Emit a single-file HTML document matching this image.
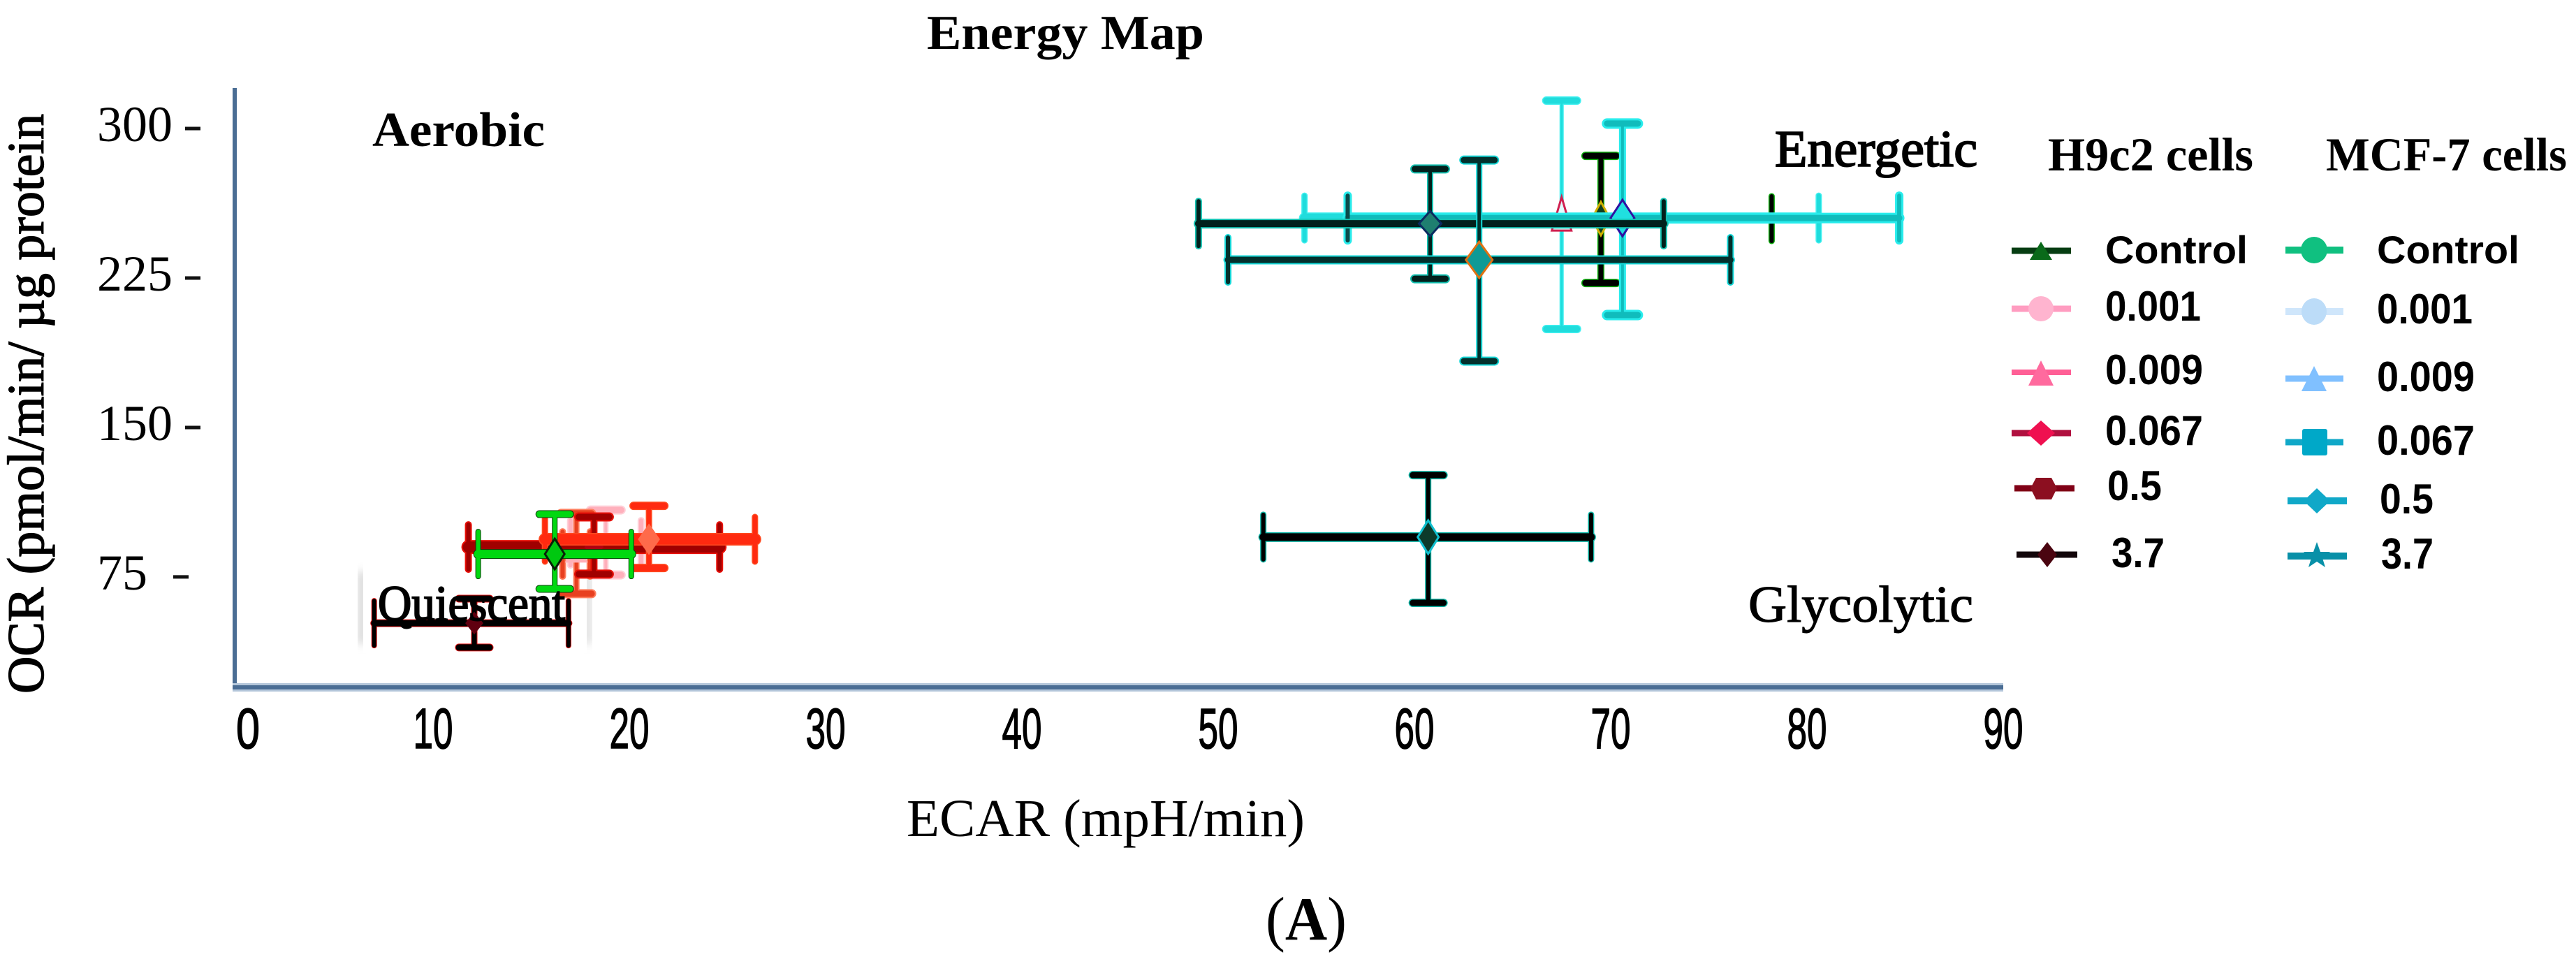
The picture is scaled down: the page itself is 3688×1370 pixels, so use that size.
<!DOCTYPE html>
<html lang="en">
<head>
<meta charset="utf-8">
<title>Energy Map</title>
<style>
html,body{margin:0;padding:0;background:#fff;}
svg{display:block;}
.serif{font-family:"Liberation Serif",serif;fill:#000;}
.sans{font-family:"Liberation Sans",sans-serif;fill:#000;}
</style>
</head>
<body>
<svg id="chart" xmlns="http://www.w3.org/2000/svg" width="3688" height="1370" viewBox="0 0 3688 1370">
  <defs><filter id="soft" x="-20%" y="-20%" width="140%" height="140%"><feGaussianBlur stdDeviation="6"/></filter></defs>
  <rect width="3688" height="1370" fill="#fff"/>
  <text class="serif" x="1327" y="70" font-size="70" font-weight="bold" textLength="397" lengthAdjust="spacingAndGlyphs">Energy Map</text>
  <text class="serif" transform="translate(62 993) rotate(-90)" font-size="74" stroke="#000" stroke-width="1.4" textLength="830" lengthAdjust="spacingAndGlyphs">OCR (pmol/min/ µg protein</text>
  <text class="serif" x="1298" y="1197" font-size="76" textLength="570" lengthAdjust="spacingAndGlyphs">ECAR (mpH/min)</text>
  <text class="serif" x="1812" y="1345" font-size="88" textLength="116" lengthAdjust="spacingAndGlyphs">(<tspan font-weight="bold">A</tspan>)</text>

  <line x1="336" y1="126" x2="336" y2="986" stroke="#4a6d94" stroke-width="6"/>
  <line x1="333" y1="984" x2="2868" y2="984" stroke="#b4c6da" stroke-width="12"/>
  <line x1="333" y1="984" x2="2868" y2="984" stroke="#4a6d94" stroke-width="6"/>
  <g id="x-ticks"></g>
  <g id="y-ticks"></g>

  <text class="serif" x="533" y="209" font-size="70" font-weight="bold" textLength="247" lengthAdjust="spacingAndGlyphs">Aerobic</text>
  <text class="serif" x="2541" y="238" font-size="74" stroke="#000" stroke-width="2" textLength="290" lengthAdjust="spacingAndGlyphs">Energetic</text>
  <text class="serif" x="2503" y="890" font-size="74" stroke="#000" stroke-width="1.2" textLength="322" lengthAdjust="spacingAndGlyphs">Glycolytic</text>

  <g>
    <rect x="514" y="818" width="8" height="104" fill="#c4c4c4" filter="url(#soft)"/>
    <rect x="838" y="818" width="8" height="104" fill="#d0d0d0" filter="url(#soft)"/>
    <rect x="520" y="805" width="320" height="130" fill="#fff"/>
  </g>
  <g id="series-layer"></g>
  <text class="serif" x="541" y="888" font-size="72" stroke="#000" stroke-width="2" textLength="268" lengthAdjust="spacingAndGlyphs">Quiescent</text>

  <g>
    <text class="serif" x="2932" y="244" font-size="68" font-weight="bold" textLength="294" lengthAdjust="spacingAndGlyphs">H9c2 cells</text>
    <g>
      <line x1="2880" y1="359" x2="2965" y2="359" stroke="#063d12" stroke-width="9"/>
      <polygon points="2922,346 2938,372 2906,372" fill="#0a6a1a"/>
      <text class="sans" x="3014" y="377" font-size="56" font-weight="bold" textLength="204" lengthAdjust="spacingAndGlyphs">Control</text>
    </g>
    <g>
      <line x1="2880" y1="442" x2="2965" y2="442" stroke="#ff9cc0" stroke-width="9"/>
      <ellipse cx="2922" cy="442" rx="18" ry="18" fill="#ffb4cf"/>
      <text class="sans" x="3014" y="459" font-size="60" font-weight="bold" textLength="137" lengthAdjust="spacingAndGlyphs">0.001</text>
    </g>
    <g>
      <line x1="2880" y1="533" x2="2965" y2="533" stroke="#ff5f96" stroke-width="8"/>
      <polygon points="2922,516 2940,552 2904,552" fill="#ff6a9e"/>
      <text class="sans" x="3014" y="550" font-size="60" font-weight="bold" textLength="140" lengthAdjust="spacingAndGlyphs">0.009</text>
    </g>
    <g>
      <line x1="2880" y1="620" x2="2965" y2="620" stroke="#b0103f" stroke-width="9"/>
      <polygon points="2922,602 2942,620 2922,638 2902,620" fill="#ef1050"/>
      <text class="sans" x="3014" y="637" font-size="60" font-weight="bold" textLength="140" lengthAdjust="spacingAndGlyphs">0.067</text>
    </g>
    <g>
      <line x1="2884" y1="699" x2="2970" y2="699" stroke="#800016" stroke-width="9"/>
      <polygon points="2915,684 2937,684 2945,699 2937,715 2915,715 2907,699" fill="#8c0f20"/>
      <text class="sans" x="3017" y="716" font-size="60" font-weight="bold" textLength="78" lengthAdjust="spacingAndGlyphs">0.5</text>
    </g>
    <g>
      <line x1="2887" y1="794" x2="2974" y2="794" stroke="#12060a" stroke-width="9"/>
      <polygon points="2931,776 2945,794 2931,812 2917,794" fill="#4a0510"/>
      <text class="sans" x="3023" y="812" font-size="60" font-weight="bold" textLength="76" lengthAdjust="spacingAndGlyphs">3.7</text>
    </g>
  </g>

  <g>
    <text class="serif" x="3330" y="244" font-size="68" font-weight="bold" textLength="345" lengthAdjust="spacingAndGlyphs">MCF-7 cells</text>
    <g>
      <line x1="3272" y1="358" x2="3355" y2="358" stroke="#10c080" stroke-width="10"/>
      <circle cx="3313" cy="358" r="19" fill="#10c080"/>
      <text class="sans" x="3403" y="377" font-size="56" font-weight="bold" textLength="204" lengthAdjust="spacingAndGlyphs">Control</text>
    </g>
    <g>
      <line x1="3272" y1="446" x2="3355" y2="446" stroke="#cfe6fb" stroke-width="10"/>
      <ellipse cx="3313" cy="446" rx="18" ry="19" fill="#bcdcf8"/>
      <text class="sans" x="3403" y="463" font-size="60" font-weight="bold" textLength="137" lengthAdjust="spacingAndGlyphs">0.001</text>
    </g>
    <g>
      <line x1="3272" y1="542" x2="3355" y2="542" stroke="#80c0ff" stroke-width="9"/>
      <polygon points="3313,524 3331,560 3295,560" fill="#80c0ff"/>
      <text class="sans" x="3403" y="560" font-size="60" font-weight="bold" textLength="140" lengthAdjust="spacingAndGlyphs">0.009</text>
    </g>
    <g>
      <line x1="3272" y1="633" x2="3355" y2="633" stroke="#10a8c8" stroke-width="9"/>
      <rect x="3296" y="614" width="36" height="38" rx="3" fill="#00a8c8"/>
      <text class="sans" x="3403" y="651" font-size="60" font-weight="bold" textLength="140" lengthAdjust="spacingAndGlyphs">0.067</text>
    </g>
    <g>
      <line x1="3275" y1="717" x2="3360" y2="717" stroke="#10a8c8" stroke-width="10"/>
      <polygon points="3317,699 3336,717 3317,735 3298,717" fill="#10a8c8"/>
      <text class="sans" x="3407" y="735" font-size="60" font-weight="bold" textLength="77" lengthAdjust="spacingAndGlyphs">0.5</text>
    </g>
    <g>
      <line x1="3275" y1="796" x2="3360" y2="796" stroke="#0890a8" stroke-width="10"/>
      <polygon points="3317,776 3322,790 3336,790 3325,799 3329,812 3317,804 3305,812 3309,799 3298,790 3312,790" fill="#0890a8"/>
      <text class="sans" x="3409" y="814" font-size="62" font-weight="bold" textLength="75" lengthAdjust="spacingAndGlyphs">3.7</text>
    </g>
  </g>
</svg>
<script>
const xTickValues = [0, 10, 20, 30, 40, 50, 60, 70, 80, 90];
const xTickLabels = ['0', '10', '20', '30', '40', '50', '60', '70', '80', '90'];
const yTickValues = [300, 225, 150, 75];
const yTickLabels = ['300', '225', '150', '75'];

const seriesNames = ['low-pink-light', 'low-pink', 'low-dark-red', 'low-bright-red', 'low-green', 'quiescent-black',
  'high-black-green', 'high-light-cyan', 'high-cyan', 'high-dark-teal', 'high-teal-orange', 'glycolytic-dark'];
const ecarMean = [18.8, 17.3, 18.2, 21.0, 16.2, 12.1, 69.5, 67.5, 70.6, 60.8, 63.3, 60.7];
const ecarLow  = [17.0, 16.6, 11.8, 15.7, 12.3, 7.0, 60.8, 54.4, 56.6, 49.0, 50.5, 52.3];
const ecarHigh = [20.6, 18.0, 24.6, 26.4, 20.1, 16.9, 78.2, 80.6, 84.7, 72.7, 76.1, 69.0];
const ocrMean  = [92.1, 86.5, 90.0, 93.9, 86.5, 51.8, 254.8, 255.1, 255.1, 252.3, 234.1, 95.0];
const ocrLow   = [76.0, 66.6, 76.4, 79.5, 69.0, 39.6, 222.5, 199.4, 206.4, 224.6, 183.3, 62.0];
const ocrHigh  = [108.6, 106.9, 105.1, 110.7, 106.5, 64.1, 286.3, 314.0, 302.5, 279.7, 284.2, 126.1];

const seriesLook = [
  {glow:'#ffd0d8', core:'#ffb0bc', h:5,  v:4, pad:4, fill:'#ffb0c0', edge:'#ffb0c0', rx:12, ry:14, shape:'diamond'},
  {glow:'#ff8060', core:'#e84020', h:6,  v:5, pad:4, fill:'#ffb0b8', edge:'#ffb0b8', rx:14, ry:18, shape:'triangle'},
  {glow:'#e81008', core:'#a00000', h:16, v:6, pad:4, fill:'#b00010', edge:'#b00010', rx:12, ry:14, shape:'diamond'},
  {glow:'#ff4a20', core:'#ff2a10', h:15, v:6, pad:3, fill:'#ff6a4a', edge:'#ff6a4a', rx:14, ry:20, shape:'diamond'},
  {glow:'#0a400a', core:'#00d810', h:12, v:6, pad:2, fill:'#00c810', edge:'#082008', rx:14, ry:22, shape:'diamond'},
  {glow:'#e01010', core:'#000000', h:9,  v:7, pad:2, fill:'#600010', edge:'#600010', rx:11, ry:14, shape:'diamond'},
  {glow:'#10b010', core:'#000000', h:8,  v:7, pad:3, fill:'#104020', edge:'#d0b000', rx:13, ry:24, shape:'diamond'},
  {glow:'#40f0f0', core:'#20dcdc', h:13, v:3, pad:3, fill:'#e0ffff', edge:'#d02050', rx:14, ry:30, shape:'triangle'},
  {glow:'#28ecec', core:'#10bcbc', h:9,  v:4, pad:6, fill:'#20e0e0', edge:'#3010a0', rx:17, ry:26, shape:'diamond', leftCap:'#0a4a4a'},
  {glow:'#14c0b0', core:'#02201c', h:10, v:5, pad:4, fill:'#1f7f70', edge:'#0a2a60', rx:16, ry:18, shape:'diamond'},
  {glow:'#14d8d8', core:'#03302c', h:9,  v:5, pad:4, fill:'#0f9a96', edge:'#e07010', rx:19, ry:26, shape:'diamond'},
  {glow:'#10b8a8', core:'#000000', h:11, v:6, pad:3, fill:'#0c3a2a', edge:'#10c0d0', rx:15, ry:24, shape:'diamond'}
];

const NS = 'http://www.w3.org/2000/svg';
function xScale(v) { return 339 + 28.1 * v; }
function yScale(v) { return 184 + (300 - v) * 2.853; }
function make(tag, attrs) {
  const el = document.createElementNS(NS, tag);
  for (const k in attrs) el.setAttribute(k, attrs[k]);
  return el;
}

const xTickGroup = document.getElementById('x-ticks');
xTickValues.forEach(function (v, i) {
  const nudge = v === 0 ? 16 : 0;
  const span = xTickLabels[i].length === 1 ? 34 : 57;
  const t = make('text', {x: xScale(v) + nudge, y: 1071, 'text-anchor': 'middle', 'font-size': 82,
    class: 'sans', stroke: '#000', 'stroke-width': 1.5, textLength: span, lengthAdjust: 'spacingAndGlyphs'});
  
  
  t.textContent = xTickLabels[i];
  xTickGroup.appendChild(t);
});

const yTickGroup = document.getElementById('y-ticks');
yTickValues.forEach(function (v, i) {
  const py = yScale(v);
  const narrow = yTickLabels[i].length === 2;
  const t = make('text', {x: 139, y: py + 18, 'font-size': 72, class: 'serif'});
  
  
  t.textContent = yTickLabels[i];
  yTickGroup.appendChild(t);
  const d = make('line', {x1: narrow ? 248 : 265, x2: narrow ? 270 : 287, y1: py, y2: py, stroke: '#111', 'stroke-width': 5});
  
  
  yTickGroup.appendChild(d);
});

function stroked(g, x1, y1, x2, y2, look, w) {
  g.appendChild(make('line', {x1: x1, y1: y1, x2: x2, y2: y2, stroke: look.glow, 'stroke-width': w + look.pad, 'stroke-linecap': 'round'}));
}
function cored(g, x1, y1, x2, y2, color, w) {
  g.appendChild(make('line', {x1: x1, y1: y1, x2: x2, y2: y2, stroke: color, 'stroke-width': w, 'stroke-linecap': 'round'}));
}
function markerPoints(shape, cx, cy, rx, ry) {
  if (shape === 'triangle') return [cx, cy - ry, cx + rx, cy + ry * 0.6, cx - rx, cy + ry * 0.6].join(' ');
  return [cx, cy - ry, cx + rx, cy, cx, cy + ry, cx - rx, cy].join(' ');
}

const layer = document.getElementById('series-layer');
seriesNames.forEach(function (name, i) {
  const look = seriesLook[i];
  const g = make('g', {});
  
  
  const cx = xScale(ecarMean[i]), cy = yScale(ocrMean[i]);
  const xa = xScale(ecarLow[i]), xb = xScale(ecarHigh[i]);
  const yb = yScale(ocrLow[i]), yt = yScale(ocrHigh[i]);
  const capW = 22, capH = 32;
  const segs = [
    [xa, cy, xb, cy, look.h],
    [cx, yt, cx, yb, look.v],
    [cx - capW, yt, cx + capW, yt, 9],
    [cx - capW, yb, cx + capW, yb, 9],
    [xa, cy - capH, xa, cy + capH, 6],
    [xb, cy - capH, xb, cy + capH, 6]
  ];
  segs.forEach(function (s) { stroked(g, s[0], s[1], s[2], s[3], look, s[4]); });
  segs.forEach(function (s, k) { cored(g, s[0], s[1], s[2], s[3], k === 4 && look.leftCap ? look.leftCap : look.core, s[4]); });
  const m = make('polygon', {points: markerPoints(look.shape, cx, cy, look.rx, look.ry), fill: look.fill, stroke: look.edge, 'stroke-width': 3});
  
  
  g.appendChild(m);
  layer.appendChild(g);
});
</script>
</body>
</html>
